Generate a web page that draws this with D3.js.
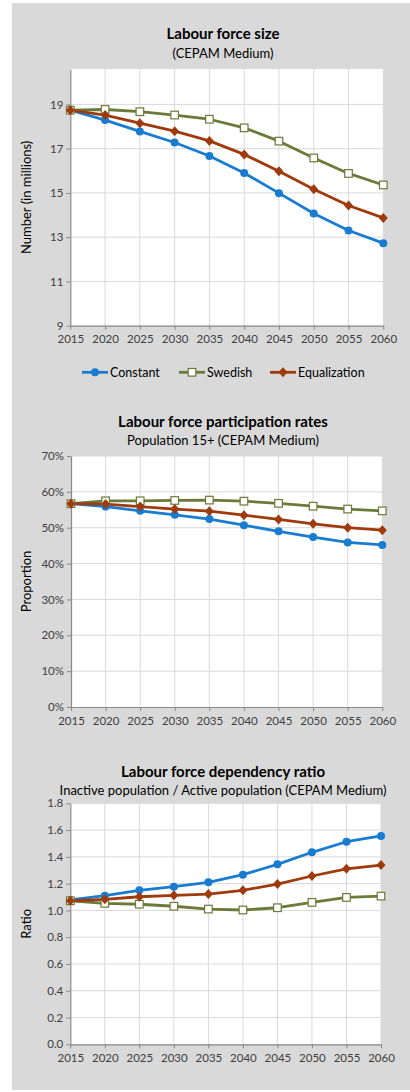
<!DOCTYPE html>
<html><head><meta charset="utf-8">
<script src="https://cdn.jsdelivr.net/npm/d3@7"></script>
<style>
html,body{margin:0;padding:0;background:#fff;}
svg{display:block;}
</style></head>
<body>
<script>
const years = [2015,2020,2025,2030,2035,2040,2045,2050,2055,2060];
const seriesNames = ["Constant","Swedish","Equalization"];

// Chart 1: Labour force size (millions)
const sizeConstant     = [18.74,18.29,17.78,17.28,16.67,15.90,14.99,14.07,13.30,12.73];
const sizeSwedish      = [18.74,18.77,18.67,18.52,18.33,17.94,17.34,16.58,15.88,15.36];
const sizeEqualization = [18.74,18.52,18.15,17.79,17.35,16.74,15.98,15.17,14.43,13.87];
const sizeTicks = [9,11,13,15,17,19];

// Chart 2: Labour force participation rates (proportion)
const rateConstant     = [0.567,0.559,0.547,0.536,0.524,0.507,0.490,0.474,0.459,0.452];
const rateSwedish      = [0.567,0.575,0.575,0.576,0.577,0.574,0.568,0.560,0.552,0.547];
const rateEqualization = [0.567,0.566,0.559,0.552,0.546,0.535,0.523,0.511,0.500,0.493];
const rateTicks = [0,0.1,0.2,0.3,0.4,0.5,0.6,0.7];

// Chart 3: Labour force dependency ratio
const ratioConstant     = [1.078,1.110,1.150,1.177,1.210,1.267,1.344,1.434,1.513,1.556];
const ratioSwedish      = [1.072,1.053,1.046,1.031,1.010,1.003,1.020,1.060,1.097,1.107];
const ratioEqualization = [1.072,1.083,1.102,1.113,1.122,1.150,1.197,1.257,1.311,1.339];
const ratioTicks = [0,0.2,0.4,0.6,0.8,1.0,1.2,1.4,1.6,1.8];

const colors = {Constant:"#1a7cd0", Swedish:"#6b7a38", Equalization:"#9e3a0c"};
const FONT = "Lato, 'Open Sans', sans-serif";

const W = 410, H = 1092;
const svg = d3.select("body").append("svg").attr("width",W).attr("height",H)
  .style("font-family",FONT);

svg.append("rect").attr("x",12).attr("y",3).attr("width",W-12).attr("height",1087).attr("fill","#d9d9d9");

function marker(g, name, x, y){
  const c = colors[name];
  if(name==="Constant"){
    g.append("circle").attr("cx",x).attr("cy",y).attr("r",4).attr("fill",c);
  } else if(name==="Swedish"){
    g.append("rect").attr("x",x-3.8).attr("y",y-3.8).attr("width",7.6).attr("height",7.6)
      .attr("fill","#fff").attr("stroke",c).attr("stroke-width",1.2);
  } else {
    g.append("path").attr("d",`M${x},${y-5}L${x+4.5},${y}L${x},${y+5}L${x-4.5},${y}Z`).attr("fill",c);
  }
}

function drawChart(cfg){
  const g = svg.append("g");
  const x = d3.scaleLinear().domain([2015,2060]).range([cfg.left,cfg.right]);
  const y = d3.scaleLinear().domain(cfg.domain).range([cfg.bottom,cfg.top]);
  g.append("rect").attr("x",cfg.left).attr("y",cfg.top).attr("width",cfg.right-cfg.left)
    .attr("height",cfg.bottom-cfg.top).attr("fill","#fff");
  // gridlines
  g.append("g").selectAll("line").data(cfg.ticks.filter(t=>t!==cfg.domain[0])).join("line")
    .attr("x1",cfg.left).attr("x2",cfg.right).attr("y1",d=>y(d)).attr("y2",d=>y(d))
    .attr("stroke","#d9d9d9").attr("stroke-width",1);
  g.append("g").selectAll("line").data(years.slice(1)).join("line")
    .attr("x1",d=>x(d)).attr("x2",d=>x(d)).attr("y1",cfg.top).attr("y2",cfg.bottom)
    .attr("stroke","#d9d9d9").attr("stroke-width",1);
  // axes
  const xa = g.append("g").attr("transform",`translate(0,${cfg.bottom})`)
    .call(d3.axisBottom(x).tickValues(years).tickFormat(d3.format("d")).tickSize(4).tickSizeOuter(0));
  const ya = g.append("g").attr("transform",`translate(${cfg.left},0)`)
    .call(d3.axisLeft(y).tickValues(cfg.ticks).tickFormat(cfg.fmt).tickSize(4).tickSizeOuter(0));
  [xa,ya].forEach(a=>{
    a.select(".domain").attr("stroke","#898989").attr("stroke-width",1.2);
    a.selectAll(".tick line").attr("stroke","#898989");
    a.selectAll("text").attr("fill","#404040").style("font-size","11.5px").style("font-family",FONT);
  });
  xa.selectAll("text").attr("dy",null).attr("y",17.5);
  ya.selectAll("text").attr("x",-7);
  // series
  const line = d3.line().x((d,i)=>x(years[i])).y(d=>y(d));
  cfg.series.forEach(([name,vals])=>{
    g.append("path").datum(vals).attr("d",line).attr("fill","none")
      .attr("stroke",colors[name]).attr("stroke-width",2.8).attr("stroke-linejoin","round");
  });
  cfg.series.forEach(([name,vals])=>{
    const mg = g.append("g");
    vals.forEach((v,i)=>marker(mg,name,x(years[i]),y(v)));
  });
  // titles
  g.append("text").attr("x",cfg.titleX).attr("y",cfg.titleY).attr("text-anchor","middle")
    .attr("fill","#000").style("font-weight","bold").style("font-size","15px").text(cfg.title);
  g.append("text").attr("x",cfg.titleX).attr("y",cfg.titleY+18.5).attr("text-anchor","middle")
    .attr("fill","#000").style("font-size","13px").text(cfg.subtitle);
  g.append("text").attr("transform",`translate(31,${(cfg.top+cfg.bottom)/2}) rotate(-90)`)
    .attr("text-anchor","middle").attr("fill","#000").style("font-size","13px").text(cfg.ylabel);
}

drawChart({
  left:70.3,right:383.3,top:69,bottom:325.7,domain:[9,20.6],ticks:sizeTicks,fmt:d3.format("d"),
  title:"Labour force size",subtitle:"(CEPAM Medium)",titleX:223,titleY:39,ylabel:"Number (in millions)",
  series:[["Constant",sizeConstant],["Swedish",sizeSwedish],["Equalization",sizeEqualization]]
});
drawChart({
  left:71,right:382.3,top:456,bottom:707,domain:[0,0.7],ticks:rateTicks,fmt:d3.format(".0%"),
  title:"Labour force participation rates",subtitle:"Population 15+ (CEPAM Medium)",titleX:223,titleY:426.7,ylabel:"Proportion",
  series:[["Constant",rateConstant],["Swedish",rateSwedish],["Equalization",rateEqualization]]
});
drawChart({
  left:70.3,right:381,top:803.3,bottom:1044.3,domain:[0,1.8],ticks:ratioTicks,fmt:d3.format(".1f"),
  title:"Labour force dependency ratio",subtitle:"Inactive population / Active population (CEPAM Medium)",titleX:223,titleY:776.7,ylabel:"Ratio",
  series:[["Constant",ratioConstant],["Swedish",ratioSwedish],["Equalization",ratioEqualization]]
});

// legend for chart 1
const legendX = [82,179,270];
const lg = svg.append("g");
seriesNames.forEach((name,i)=>{
  const lx = legendX[i], ly = 372.3;
  lg.append("line").attr("x1",lx).attr("x2",lx+26).attr("y1",ly).attr("y2",ly)
    .attr("stroke",colors[name]).attr("stroke-width",2.8);
  marker(lg,name,lx+13,ly);
  lg.append("text").attr("x",lx+28).attr("y",ly+4.5).attr("fill","#000")
    .style("font-size","12.5px").text(name);
});
</script>
</body></html>
